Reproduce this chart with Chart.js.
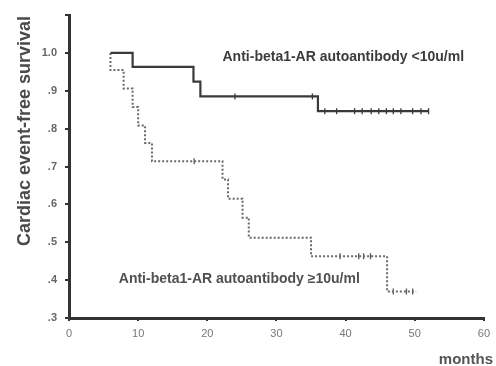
<!DOCTYPE html>
<html>
<head>
<meta charset="utf-8">
<script src="https://cdn.jsdelivr.net/npm/chart.js@4/dist/chart.umd.min.js"></script>
<style>
  html, body { margin: 0; padding: 0; background: #fff; }
  #wrap { width: 496px; height: 366px; }
</style>
</head>
<body>
<div id="wrap"><canvas id="km"></canvas></div>
<script>
// Kaplan-Meier steps (months, survival)
const lowTimes = [6, 9.2, 18, 19, 36, 52];
const lowSurv = [1.0, 0.963, 0.924, 0.885, 0.846, 0.846];
const lowCensored = [24, 35.2, 37, 38.7, 41.3, 42.4, 43.7, 44.8, 45.9, 46.9, 48, 49.7, 50.9, 52];

const highTimes = [6, 6, 7.9, 9.2, 10, 11, 12, 22.2, 23, 25.1, 26, 35, 46, 50.2];
const highSurv = [1.0, 0.955, 0.906, 0.857, 0.808, 0.762, 0.714, 0.666, 0.615, 0.565, 0.512, 0.463, 0.370, 0.370];
const highCensored = [18.1, 39.2, 41.9, 42.6, 43.6, 46.9, 48.8, 49.7];

const xTicks = [0, 10, 20, 30, 40, 50, 60];
const yTicks = [0.3, 0.4, 0.5, 0.6, 0.7, 0.8, 0.9, 1.0, 1.1];

const labelLow = 'Anti-beta1-AR autoantibody <10u/ml';
const labelHigh = 'Anti-beta1-AR autoantibody \u226510u/ml';
const yTitle = 'Cardiac event-free survival';
const xTitle = 'months';

function toPoints(times, surv) {
	return times.map((t, i) => ({x: t, y: surv[i]}));
}

// survival value of the step function at time t
function stepAt(times, surv, t) {
	let v = surv[0];
	for (let i = 0; i < times.length; i++) {
		if (times[i] <= t) v = surv[i];
	}
	return v;
}

function censorPoints(cens, times, surv) {
	return cens.map(t => ({x: t, y: stepAt(times, surv, t)}));
}

const textPlugin = {
	id: 'kmText',
	afterDraw(chart) {
		const ctx = chart.ctx;
		const xs = chart.scales.x, ys = chart.scales.y;
		ctx.save();
		ctx.fillStyle = '#3c3c3c';
		ctx.textBaseline = 'middle';
		ctx.textAlign = 'left';
		ctx.font = 'bold 14px "Liberation Sans", Arial, sans-serif';
		ctx.fillText(labelLow, xs.getPixelForValue(22.2), ys.getPixelForValue(0.989));
		ctx.fillStyle = '#505050';
		ctx.fillText(labelHigh, xs.getPixelForValue(7.2), ys.getPixelForValue(0.403));

		// axis titles
		ctx.fillStyle = '#4a4a4a';
		ctx.font = 'bold 18px "Liberation Sans", Arial, sans-serif';
		ctx.save();
		ctx.translate(25, 131);
		ctx.rotate(-Math.PI / 2);
		ctx.textAlign = 'center';
		ctx.fillText(yTitle, 0, 0);
		ctx.restore();

		ctx.font = 'bold 15px "Liberation Sans", Arial, sans-serif';
		ctx.fillStyle = '#555';
		ctx.textAlign = 'right';
		ctx.fillText(xTitle, 493, 360);
		ctx.restore();
	}
};

let ctx = document.getElementById('km').getContext('2d');

let chart = new Chart(ctx, {
	type: 'line',
	data: {
		datasets: [
			{
				data: toPoints(lowTimes, lowSurv),
				borderColor: '#3a3a3a',
				borderWidth: 2.2,
				stepped: true,
				pointRadius: 0,
				fill: false,
			},
			{
				data: toPoints(highTimes, highSurv),
				borderColor: '#6a6a6a',
				borderWidth: 2,
				borderDash: [2, 2],
				stepped: true,
				pointRadius: 0,
				fill: false,
			},
			{
				data: censorPoints(lowCensored, lowTimes, lowSurv),
				showLine: false,
				pointStyle: 'line',
				rotation: 90,
				pointRadius: 3,
				pointBorderWidth: 1.3,
				pointBorderColor: '#3a3a3a',
			},
			{
				data: censorPoints(highCensored, highTimes, highSurv),
				showLine: false,
				pointStyle: 'line',
				rotation: 90,
				pointRadius: 3,
				pointBorderWidth: 1.3,
				pointBorderColor: '#5a5a5a',
			}
		]
	},
	options: {
		animation: false,
		responsive: true,
		maintainAspectRatio: false,
		layout: {
			padding: {left: 0, right: 11, top: 15, bottom: 0}
		},
		plugins: {
			legend: {display: false},
			tooltip: {enabled: false}
		},
		scales: {
			x: {
				type: 'linear',
				min: 0,
				max: 60,
				afterFit: (scale) => { scale.height = 48; },
				afterBuildTicks: (scale) => { scale.ticks = xTicks.map(v => ({value: v})); },
				border: {color: '#333', width: 3},
				grid: {drawOnChartArea: false, drawTicks: true, tickLength: 3, color: '#333', lineWidth: 2},
				ticks: {
					color: '#777',
					font: {family: '"Liberation Sans", Arial, sans-serif', size: 11},
					padding: 6,
					maxRotation: 0
				}
			},
			y: {
				min: 0.3,
				max: 1.1,
				afterFit: (scale) => { scale.width = 69; },
				afterBuildTicks: (scale) => { scale.ticks = yTicks.map(v => ({value: v})); },
				border: {color: '#333', width: 3},
				grid: {drawOnChartArea: false, drawTicks: true, tickLength: 4, color: '#333', lineWidth: 2},
				ticks: {
					color: '#666',
					font: {family: '"Liberation Sans", Arial, sans-serif', size: 11, weight: 'bold'},
					padding: 8,
					callback: (v) => {
						const r = Math.round(v * 10) / 10;
						if (r > 1.05) return '';
						return r === 1 ? '1.0' : r.toFixed(1).replace(/^0/, '');
					}
				}
			}
		}
	},
	plugins: [textPlugin]
});
</script>
</body>
</html>
